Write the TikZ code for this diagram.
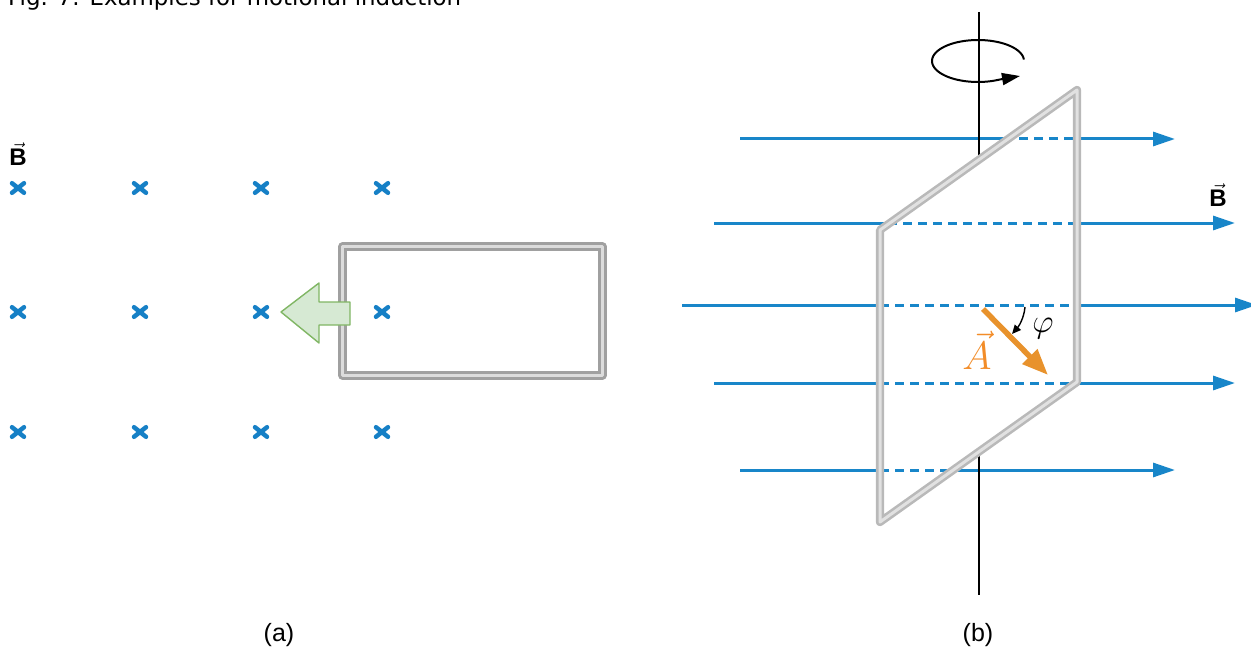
\documentclass[tikz,border=0pt]{standalone}
\usepackage{graphicx}
\usepackage{fontspec}
\setmainfont{Liberation Sans}
\newfontfamily\titlefont{DejaVu Sans}
\usetikzlibrary{arrows.meta}
\definecolor{fieldblue}{RGB}{24,134,201}
\definecolor{crossblue}{RGB}{22,128,198}
\definecolor{loopgray}{RGB}{160,160,160}
\definecolor{loopinner}{RGB}{220,220,220}
\definecolor{framegray}{RGB}{185,185,185}
\definecolor{frameinner}{RGB}{225,225,225}
\definecolor{avecorange}{RGB}{232,146,44}
\definecolor{alabel}{RGB}{242,140,40}
\definecolor{greenfill}{RGB}{214,233,211}
\definecolor{greenline}{RGB}{128,182,100}
\begin{document}
\begin{tikzpicture}[x=1pt,y=-1pt,
  fline/.style={fieldblue, line width=3pt},
  fdash/.style={fieldblue, line width=3pt, dash pattern=on 9pt off 6pt},
  ftip/.style={-{Triangle[length=22pt,width=14pt]}},
  crossmark/.style={crossblue, line width=4.5pt, line cap=round},
  loopframe/.style={draw=loopgray, line width=2.6pt, double=loopinner, double distance=3pt, line join=round},
  plateframe/.style={draw=framegray, line width=2.6pt, double=frameinner, double distance=3pt, line join=round},
  axisline/.style={black, line width=1.6pt},
  avec/.style={avecorange, line width=5.5pt, -{Triangle[length=26pt,width=20pt]}},
  lbl/.style={font=\fontsize{25}{25}\selectfont, inner sep=0pt},
  blbl/.style={font=\fontsize{24}{24}\selectfont\bfseries, inner sep=0pt, anchor=base}
]
\useasboundingbox (0,0) rectangle (1251,650);
\clip (0,0) rectangle (1251,650);

% title (cut off at the top)
\node[anchor=base west, inner sep=0pt, font=\titlefont\fontsize{22.9}{24}\selectfont] (title) at (8,6) {Fig. 7: Examples for motional induction};

% ---------------- (a) ----------------
\node[blbl] (Ba) at (18,166) {$\vec{\mbox{B}}$};
\foreach \cx in {18,140,261,382}
  \foreach \cy in {188,312,432}
  {
    \draw[crossmark] (\cx-6,\cy-4.8) -- (\cx+6,\cy+4.8);
    \draw[crossmark] (\cx-6,\cy+4.8) -- (\cx+6,\cy-4.8);
  }
\coordinate (L1) at (342.5,246.5);
\coordinate (L2) at (602.5,375.5);
\draw[loopframe] (L1) rectangle (L2);
\draw[fill=greenfill, draw=greenline, line width=1.4pt, line join=round]
  (281,312) -- (319,283) -- (319,302) -- (350,302) -- (350,325) -- (319,325) -- (319,343) -- cycle;
\node[lbl] (la) at (279,635) {(a)};

% ---------------- (b) ----------------
\coordinate (P1) at (880,230);
\coordinate (P2) at (1077,90);
\coordinate (P3) at (1077,382);
\coordinate (P4) at (880,522);

% field lines
\coordinate (s1) at (740,139); \coordinate (a1) at (1004,139); \coordinate (b1) at (1077,139); \coordinate (e1) at (1175,139);
\coordinate (s2) at (714,223); \coordinate (a2) at (888,223); \coordinate (b2) at (1077,223); \coordinate (e2) at (1235,223);
\coordinate (s3) at (682,305); \coordinate (a3) at (880,305); \coordinate (b3) at (1077,305); \coordinate (e3) at (1257,305);
\coordinate (s4) at (714,383); \coordinate (a4) at (880,383); \coordinate (b4) at (1077,383); \coordinate (e4) at (1235,383);
\coordinate (s5) at (740,470); \coordinate (a5) at (880,470); \coordinate (b5) at (955,470); \coordinate (e5) at (1175,470);
\foreach \i in {1,...,5}{
  \draw[fline] (s\i) -- (a\i);
  \draw[fdash] (a\i) -- (b\i);
  \draw[fline, ftip] (b\i) -- (e\i);
}

% rotation axis
\coordinate (ax1) at (979,12);
\coordinate (ax2) at (979,160);
\coordinate (ax3) at (979,451);
\coordinate (ax4) at (979,595);
\draw[axisline] (ax1) -- (ax2);
\draw[axisline] (ax3) -- (ax4);

% rotating plate
\draw[plateframe] (P1) -- (P2) -- (P3) -- (P4) -- cycle;

% rotation sense
\coordinate (rotend) at (1020,76);
\draw[black, line width=2pt, -{Triangle[length=18pt,width=12pt]}]
  plot[domain=4:298, samples=80, smooth] ({978+46*cos(\x)}, {61-21*sin(\x)}) -- (rotend);

% area vector
\coordinate (A0) at (983,309);
\coordinate (A1) at (1048,375);
\draw[avec] (A0) -- (A1);
\node[inner sep=0pt, text=alabel] (Alab) at (977,350) {\scalebox{1.6}{\Huge$\vec{A}$}};
\coordinate (p0) at (1025,307);
\coordinate (p1) at (1012,334);
\draw[black, line width=1.4pt, -{Triangle[length=9pt,width=8pt]}] (p0) .. controls (1024,318) and (1019,326) .. (p1);
\node[inner sep=0pt] (phi) at (1043,329) {\scalebox{1.33}{\Huge$\varphi$}};

\node[blbl] (Bb) at (1218,207) {$\vec{\mbox{B}}$};
\node[lbl] (lb) at (978,635) {(b)};
\end{tikzpicture}
\end{document}
